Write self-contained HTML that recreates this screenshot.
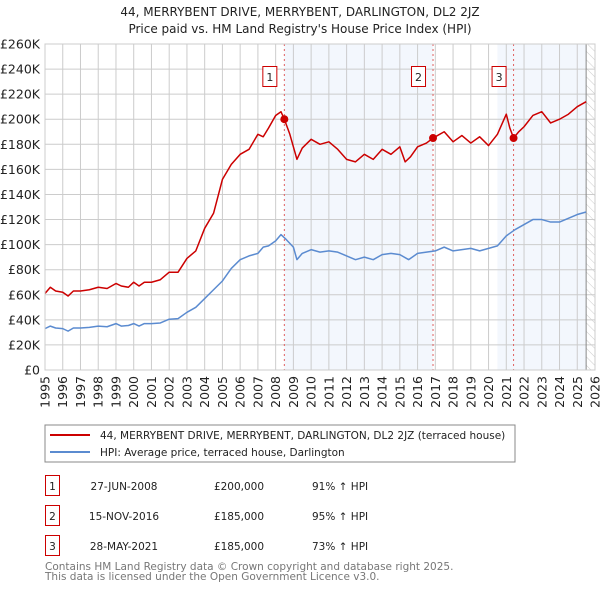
<!DOCTYPE html>
<html><head><meta charset="utf-8"><style>
body{margin:0;background:#fff;font-family:"DejaVu Sans","Liberation Sans",sans-serif;}
svg text{font-family:"DejaVu Sans","Liberation Sans",sans-serif;}
</style></head><body>
<svg id="c" width="600" height="590" xmlns="http://www.w3.org/2000/svg">
<defs><pattern id="hatch" width="6" height="6" patternUnits="userSpaceOnUse" patternTransform="rotate(-45)"><line x1="0" y1="0" x2="0" y2="6" stroke="#ccc" stroke-width="1"/></pattern></defs>
<text x="300" y="16" text-anchor="middle" font-size="12" fill="#222">44, MERRYBENT DRIVE, MERRYBENT, DARLINGTON, DL2 2JZ</text>
<text x="300" y="33" text-anchor="middle" font-size="12" fill="#222">Price paid vs. HM Land Registry's House Price Index (HPI)</text>
<g id="plot"></g>
<rect x="45" y="425" width="470" height="37" fill="#fff" stroke="#888"/>
<line x1="50" y1="435" x2="90" y2="435" stroke="#cc0000" stroke-width="2"/>
<text x="100" y="439" font-size="10.5" fill="#222">44, MERRYBENT DRIVE, MERRYBENT, DARLINGTON, DL2 2JZ (terraced house)</text>
<line x1="50" y1="452" x2="90" y2="452" stroke="#5b8bd0" stroke-width="2"/>
<text x="100" y="456" font-size="10.5" fill="#222">HPI: Average price, terraced house, Darlington</text>
<g font-size="10.5" fill="#222">
<rect x="45.5" y="475.5" width="14" height="20" fill="none" stroke="#cc0000"/><text x="52.5" y="490" text-anchor="middle">1</text>
<text x="124" y="490" text-anchor="middle">27-JUN-2008</text><text x="239" y="490" text-anchor="middle">£200,000</text><text x="312" y="490">91% ↑ HPI</text>
<rect x="45.5" y="505.5" width="14" height="20" fill="none" stroke="#cc0000"/><text x="52.5" y="520" text-anchor="middle">2</text>
<text x="124" y="520" text-anchor="middle">15-NOV-2016</text><text x="239" y="520" text-anchor="middle">£185,000</text><text x="312" y="520">95% ↑ HPI</text>
<rect x="45.5" y="535.5" width="14" height="20" fill="none" stroke="#cc0000"/><text x="52.5" y="550" text-anchor="middle">3</text>
<text x="124" y="550" text-anchor="middle">28-MAY-2021</text><text x="239" y="550" text-anchor="middle">£185,000</text><text x="312" y="550">73% ↑ HPI</text>
</g>
<text x="45" y="570" font-size="10.5" fill="#777">Contains HM Land Registry data © Crown copyright and database right 2025.</text>
<text x="45" y="580" font-size="10.5" fill="#777">This data is licensed under the Open Government Licence v3.0.</text>
</svg>
<script>
const hpiYears=[1995,1995.3,1995.6,1996,1996.3,1996.6,1997,1997.5,1998,1998.5,1999,1999.3,1999.7,2000,2000.3,2000.6,2001,2001.5,2002,2002.5,2003,2003.5,2004,2004.5,2005,2005.5,2006,2006.5,2007,2007.3,2007.6,2008,2008.3,2008.6,2009,2009.2,2009.5,2010,2010.5,2011,2011.5,2012,2012.5,2013,2013.5,2014,2014.5,2015,2015.5,2016,2016.5,2017,2017.5,2018,2018.5,2019,2019.5,2020,2020.5,2021,2021.5,2022,2022.5,2023,2023.5,2024,2024.5,2025,2025.5];
const hpiValues=[33,35,33.5,33,31,33.5,33.5,34,35,34.5,37,35,35.5,37,35,37,37,37.5,40.5,41,46,50,57,64,71,81,88,91,93,98,99,103,108,104,98,88,93,96,94,95,94,91,88,90,88,92,93,92,88,93,94,95,98,95,96,97,95,97,99,107,112,116,120,120,118,118,121,124,126];
const priceYears=[1995,1995.3,1995.6,1996,1996.3,1996.6,1997,1997.5,1998,1998.5,1999,1999.3,1999.7,2000,2000.3,2000.6,2001,2001.5,2002,2002.5,2003,2003.5,2004,2004.5,2005,2005.5,2006,2006.5,2007,2007.3,2007.6,2008,2008.3,2008.49,2008.8,2009.2,2009.5,2010,2010.5,2011,2011.5,2012,2012.5,2013,2013.5,2014,2014.5,2015,2015.3,2015.6,2016,2016.5,2016.87,2017.5,2018,2018.5,2019,2019.5,2020,2020.5,2021,2021.2,2021.41,2021.7,2022,2022.5,2023,2023.5,2024,2024.5,2025,2025.5];
const priceValues=[61,66,63,62,59,63,63,64,66,65,69,67,66,70,67,70,70,72,78,78,89,95,113,125,152,164,172,176,188,186,193,203,206,200,188,168,177,184,180,182,176,168,166,172,168,176,172,178,166,170,178,181,185,190,182,187,181,186,179,188,204,193,185,190,194,203,206,197,200,204,210,214];
const yTicks=[0,20,40,60,80,100,120,140,160,180,200,220,240,260];
const xTicks=[1995,1996,1997,1998,1999,2000,2001,2002,2003,2004,2005,2006,2007,2008,2009,2010,2011,2012,2013,2014,2015,2016,2017,2018,2019,2020,2021,2022,2023,2024,2025,2026];
const saleYears=[2008.49,2016.87,2021.41];
const saleValues=[200,185,185];
const saleLabels=["1","2","3"];
const X0=45,X1=595,Y0=370,Y1=44;
const x=v=>X0+(v-1995)/(2026-1995)*(X1-X0);
const y=v=>Y0-v/260*(Y0-Y1);
const NS="http://www.w3.org/2000/svg";
const g=document.getElementById('plot');
function mk(t,a){const e=document.createElementNS(NS,t);for(const k in a)e.setAttribute(k,a[k]);g.appendChild(e);return e;}
let r;
r=mk('rect',{x:X0,y:Y1,width:X1-X0,height:Y0-Y1,fill:'#fff'});


r=mk('rect',{x:x(saleYears[0]),y:Y1,width:x(saleYears[1])-x(saleYears[0]),height:Y0-Y1,fill:'#eef3fc',opacity:0.7});


r=mk('rect',{x:x(2020.5),y:Y1,width:x(2025.5)-x(2020.5),height:Y0-Y1,fill:'#eef3fc',opacity:0.7});


r=mk('rect',{x:x(2025.5),y:Y1,width:X1-x(2025.5),height:Y0-Y1,fill:'url(#hatch)'});


yTicks.forEach(t=>{
 const l=mk('line',{x1:X0,x2:X1,y1:y(t),y2:y(t),stroke:'#ccc','stroke-width':1});
 
 
 const tx=mk('text',{x:40,y:y(t)+4.5,'text-anchor':'end','font-size':12.5,fill:'#222'});
 tx.textContent=t===0?'£0':'£'+t+'K';
 
 
});
xTicks.forEach(t=>{
 const l=mk('line',{x1:x(t),x2:x(t),y1:Y1,y2:Y0,stroke:'#ccc','stroke-width':1});
 
 
 const tx=mk('text',{transform:`translate(${x(t)+4.5},${Y0+6}) rotate(-90)`,'text-anchor':'end','font-size':12.5,fill:'#222'});
 tx.textContent=t;
 
 
});
r=mk('line',{x1:x(2025.5),x2:x(2025.5),y1:Y1,y2:Y0,stroke:'#888','stroke-width':1});


saleYears.forEach((s,i)=>{
 const l=mk('line',{x1:x(s),x2:x(s),y1:Y1,y2:Y0,stroke:'#e06060','stroke-width':1,'stroke-dasharray':'2,3'});
 
 
});
const pl=(xs,vs,c,n)=>{const p=mk('polyline',{points:xs.map((v,i)=>x(v)+','+y(vs[i])).join(' '),fill:'none',stroke:c,'stroke-width':1.5,'stroke-linejoin':'round'});
 
 };
pl(hpiYears,hpiValues,'#5b8bd0','hpi-line');
pl(priceYears,priceValues,'#cc0000','price-line');
saleYears.forEach((s,i)=>{
 const c=mk('circle',{cx:x(s),cy:y(saleValues[i]),r:4,fill:'#cc0000'});
 
 
 const b=mk('rect',{x:x(s)-21.5,y:66.5,width:14,height:20,fill:'#fff',stroke:'#cc0000'});
 
 
 const t=mk('text',{x:x(s)-14.5,y:81,'text-anchor':'middle','font-size':11,fill:'#222'});
 t.textContent=saleLabels[i];
 
 
});
r=mk('rect',{x:X0,y:Y1,width:X1-X0,height:Y0-Y1,fill:'none',stroke:'#ccc'});


</script>
</body></html>
